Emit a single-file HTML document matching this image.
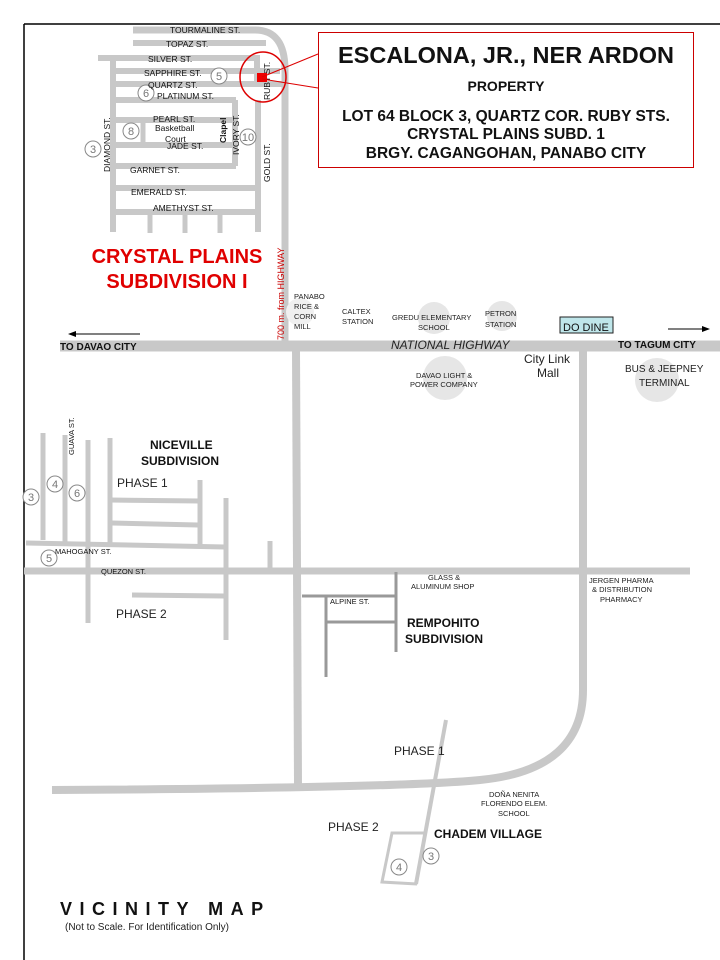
<!DOCTYPE html>
<html><head><meta charset="utf-8"><style>
html,body{margin:0;padding:0;background:#fff}
svg{display:block}
text{font-family:"Liberation Sans",Arial,sans-serif}
</style></head><body>
<svg width="720" height="960" viewBox="0 0 720 960" xmlns="http://www.w3.org/2000/svg">
<rect width="720" height="960" fill="#fff"/>
<line x1="24" y1="24" x2="720" y2="24" stroke="#000" stroke-width="1.5"/>
<line x1="24" y1="24" x2="24" y2="960" stroke="#000" stroke-width="1.5"/>

<g stroke="#c8c8c8" fill="none" stroke-linecap="butt">
<path d="M133 30 H255 Q285 30 285 70 V345" stroke-width="7"/>
<line x1="133" y1="43" x2="266" y2="43" stroke-width="6"/>
<line x1="98" y1="58" x2="256" y2="58" stroke-width="6"/>
<line x1="115" y1="71" x2="280" y2="71" stroke-width="6"/>
<line x1="115" y1="84" x2="284" y2="84" stroke-width="6"/>
<line x1="113" y1="100" x2="236" y2="100" stroke-width="6"/>
<line x1="257" y1="55" x2="257" y2="86" stroke-width="6"/>
<line x1="258" y1="100" x2="258" y2="232" stroke-width="6"/>
<line x1="113" y1="58" x2="113" y2="232" stroke-width="6"/>
<line x1="113" y1="120" x2="236" y2="120" stroke-width="6"/>
<line x1="113" y1="145" x2="236" y2="145" stroke-width="6"/>
<line x1="143" y1="120" x2="143" y2="145" stroke-width="5"/>
<line x1="235" y1="100" x2="235" y2="166" stroke-width="6"/>
<line x1="113" y1="166" x2="236" y2="166" stroke-width="6"/>
<line x1="113" y1="188" x2="258" y2="188" stroke-width="6"/>
<line x1="113" y1="212" x2="258" y2="212" stroke-width="6"/>
<line x1="150" y1="212" x2="150" y2="233" stroke-width="5"/>
<line x1="185" y1="212" x2="185" y2="233" stroke-width="5"/>
<line x1="220" y1="212" x2="220" y2="233" stroke-width="5"/>
<line x1="60" y1="346" x2="720" y2="346" stroke-width="11"/>
<path d="M296 350 L298 785" stroke-width="8"/>
<path d="M583 350 V690 Q583 770 480 780 Q400 788 52 790" stroke-width="8"/>
<line x1="24" y1="571" x2="690" y2="571" stroke-width="7"/>
<path d="M26 543 L225 547" stroke-width="5"/>
<line x1="43" y1="433" x2="43" y2="540" stroke-width="5"/>
<line x1="65" y1="435" x2="65" y2="543" stroke-width="5"/>
<line x1="88" y1="440" x2="88" y2="623" stroke-width="5"/>
<line x1="110" y1="438" x2="110" y2="543" stroke-width="5"/>
<line x1="200" y1="480" x2="200" y2="545" stroke-width="5"/>
<line x1="226" y1="498" x2="226" y2="640" stroke-width="5"/>
<line x1="270" y1="541" x2="270" y2="570" stroke-width="5"/>
<line x1="110" y1="500" x2="200" y2="501" stroke-width="5"/>
<line x1="112" y1="523" x2="198" y2="525" stroke-width="5"/>
<line x1="132" y1="595" x2="224" y2="596" stroke-width="5"/>
<line x1="446" y1="720" x2="416" y2="884" stroke-width="4"/>
<path d="M424 833 H392 L382 882 L417 884" stroke-width="3"/>
</g>
<g stroke="#999" stroke-width="3" fill="none">
<line x1="302" y1="596" x2="397" y2="596"/>
<line x1="396" y1="572" x2="396" y2="652"/>
<line x1="326" y1="596" x2="326" y2="677"/>
<line x1="326" y1="622" x2="396" y2="622"/>
</g>
<g fill="#e6e6e6">
<circle cx="434" cy="318" r="16"/>
<circle cx="502" cy="316" r="15"/>
<circle cx="445" cy="378" r="22"/>
<circle cx="657" cy="380" r="22"/>
<circle cx="300" cy="312" r="14" fill="#f0f0f0"/>
</g>
<g fill="#fff" stroke="#888" stroke-width="1">
<circle cx="219" cy="76" r="8"/><circle cx="146" cy="93" r="8"/><circle cx="131" cy="131" r="8"/>
<circle cx="93" cy="149" r="8"/><circle cx="248" cy="137" r="8"/>
<circle cx="31" cy="497" r="8"/><circle cx="55" cy="484" r="8"/><circle cx="77" cy="493" r="8"/>
<circle cx="49" cy="558" r="8"/><circle cx="431" cy="856" r="8"/><circle cx="399" cy="867" r="8"/>
</g>
<g font-size="11" fill="#777" text-anchor="middle">
<text x="219" y="80">5</text><text x="146" y="97">6</text><text x="131" y="135">8</text>
<text x="93" y="153">3</text><text x="248" y="141">10</text>
<text x="31" y="501">3</text><text x="55" y="488">4</text><text x="77" y="497">6</text>
<text x="49" y="562">5</text><text x="431" y="860">3</text><text x="399" y="871">4</text>
</g>
<g font-size="8.5" fill="#111">
<text x="170" y="33">TOURMALINE  ST.</text>
<text x="166" y="47">TOPAZ  ST.</text>
<text x="148" y="62">SILVER  ST.</text>
<text x="144" y="76">SAPPHIRE  ST.</text>
<text x="148" y="88">QUARTZ  ST.</text>
<text x="157" y="99">PLATINUM  ST.</text>
<text x="153" y="122">PEARL  ST.</text>
<text x="155" y="131">Basketball</text>
<text x="165" y="142">Court</text>
<text x="167" y="149">JADE  ST.</text>
<text x="130" y="173">GARNET  ST.</text>
<text x="131" y="195">EMERALD  ST.</text>
<text x="153" y="211">AMETHYST  ST.</text>
<text transform="translate(110,172) rotate(-90)">DIAMOND  ST.</text>
<text transform="translate(239,155) rotate(-90)">IVORY  ST.</text>
<text transform="translate(226,143) rotate(-90)" font-weight="bold">Clapel</text>
<text transform="translate(270,182) rotate(-90)">GOLD  ST.</text>
<text transform="translate(270,100) rotate(-90)">RUBY  ST.</text>
<text transform="translate(74,455) rotate(-90)" font-size="7.5">GUAVA  ST.</text>
<text x="55" y="554" font-size="7.5">MAHOGANY  ST.</text>
<text x="101" y="574" font-size="7.5">QUEZON  ST.</text>
<text x="330" y="604" font-size="7.5">ALPINE   ST.</text>
</g>
<text transform="translate(284,340) rotate(-90)" font-size="9" fill="#c00">700 m. from HIGHWAY</text>
<g font-size="7.5" fill="#222">
<text x="294" y="299">PANABO</text><text x="294" y="309">RICE &amp;</text><text x="294" y="319">CORN</text><text x="294" y="329">MILL</text>
<text x="342" y="314">CALTEX</text><text x="342" y="324">STATION</text>
<text x="392" y="320">GREDU ELEMENTARY</text><text x="418" y="330">SCHOOL</text>
<text x="485" y="316">PETRON</text><text x="485" y="327">STATION</text>
<text x="416" y="378">DAVAO LIGHT &amp;</text><text x="410" y="387">POWER COMPANY</text>
<text x="428" y="580">GLASS  &amp;</text><text x="411" y="589">ALUMINUM SHOP</text>
<text x="589" y="583">JERGEN PHARMA</text><text x="592" y="592">&amp; DISTRIBUTION</text><text x="600" y="602">PHARMACY</text>
<text x="489" y="797">DOÑA NENITA</text><text x="481" y="806">FLORENDO ELEM.</text><text x="498" y="816">SCHOOL</text>
</g>
<g font-size="10" fill="#222">
<text x="625" y="372">BUS &amp; JEEPNEY</text><text x="639" y="386">TERMINAL</text>
</g>
<g font-size="12" fill="#222">
<text x="524" y="363">City Link</text><text x="537" y="377">Mall</text>
<text x="117" y="487">PHASE 1</text><text x="116" y="618">PHASE 2</text>
<text x="394" y="755">PHASE 1</text><text x="328" y="831">PHASE 2</text>
</g>
<text x="391" y="349" font-size="12" font-style="italic" fill="#222">NATIONAL HIGHWAY</text>
<rect x="560" y="317" width="53" height="16" fill="#bfe6ea" stroke="#222" stroke-width="1"/>
<text x="563" y="331" font-size="11" fill="#111">DO DINE</text>
<text x="60" y="350" font-size="10" font-weight="bold" fill="#111">TO DAVAO  CITY</text>
<text x="618" y="348" font-size="10" font-weight="bold" fill="#111">TO TAGUM  CITY</text>
<line x1="74" y1="334" x2="140" y2="334" stroke="#000"/><path d="M68 334 L76 331 L76 337Z" fill="#000"/>
<line x1="668" y1="329" x2="704" y2="329" stroke="#000"/><path d="M710 329 L702 326 L702 332Z" fill="#000"/>
<g font-size="12" font-weight="bold" fill="#111">
<text x="150" y="449">NICEVILLE</text><text x="141" y="465">SUBDIVISION</text>
<text x="407" y="627">REMPOHITO</text><text x="405" y="643">SUBDIVISION</text>
<text x="434" y="838">CHADEM  VILLAGE</text>
</g>
<g font-size="20" font-weight="bold" fill="#e00000" text-anchor="middle">
<text x="177" y="263">CRYSTAL  PLAINS</text><text x="177" y="288">SUBDIVISION  I</text>
</g>
<ellipse cx="263" cy="77" rx="23" ry="25" fill="none" stroke="#d00" stroke-width="1.5"/>
<rect x="257" y="73" width="10" height="9" fill="#e00"/>
<line x1="262" y1="77" x2="318" y2="54" stroke="#d00"/>
<line x1="262" y1="79" x2="318" y2="88" stroke="#d00"/>
<rect x="318.5" y="32.5" width="375" height="135" fill="#fff" stroke="#c00" stroke-width="1"/>
<g font-weight="bold" fill="#111" text-anchor="middle">
<text x="506" y="63" font-size="23.5">ESCALONA, JR., NER ARDON</text>
<text x="506" y="91" font-size="14">PROPERTY</text>
<text x="506" y="121" font-size="15.5">LOT 64 BLOCK 3, QUARTZ COR. RUBY STS.</text>
<text x="506" y="139" font-size="15.5">CRYSTAL PLAINS SUBD. 1</text>
<text x="506" y="158" font-size="15.5">BRGY. CAGANGOHAN, PANABO CITY</text>
</g>
<text x="60" y="915" font-size="18" font-weight="bold" fill="#111" letter-spacing="7.5">VICINITY  MAP</text>
<text x="65" y="930" font-size="10" fill="#222">(Not to Scale. For Identification Only)</text>
</svg>
</body></html>
